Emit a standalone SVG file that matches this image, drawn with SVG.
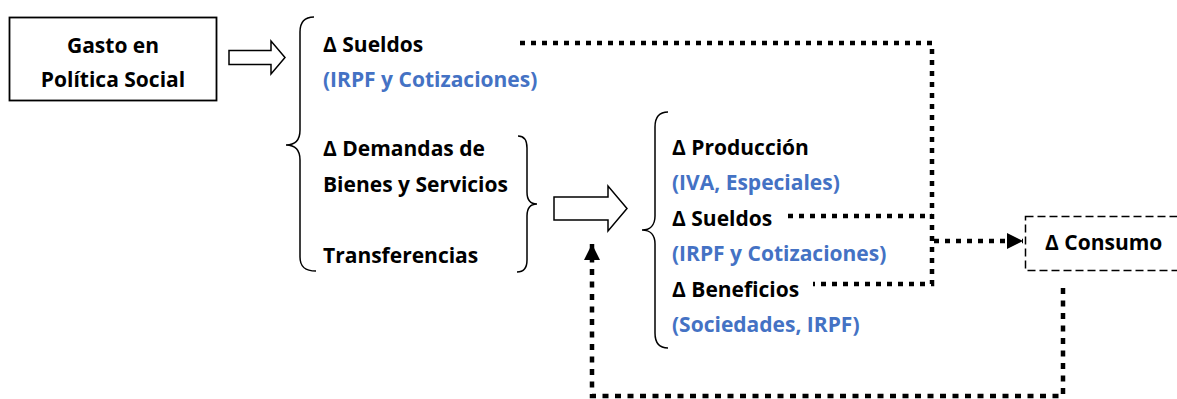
<svg xmlns="http://www.w3.org/2000/svg" width="1177" height="399" viewBox="0 0 1177 399">
<style>
text{font-family:"Open Sans","Liberation Sans",sans-serif;font-weight:bold;font-size:21px;fill:#000}
.b{fill:#4472C4}
.brace{fill:none;stroke:#000;stroke-width:1.5}
.hollow{fill:#fff;stroke:#000;stroke-width:1.5;stroke-linejoin:miter}
.dot{fill:none;stroke:#000;stroke-width:4.5;stroke-dasharray:5 6}
.dot2{fill:none;stroke:#000;stroke-width:4.5;stroke-dasharray:6 6.5}
</style>
<defs>
<marker id="ah" markerUnits="userSpaceOnUse" markerWidth="18" markerHeight="18" refX="16" refY="8" orient="auto" viewBox="0 0 18 18">
<path d="M0,0 L16,8 L0,16 Z" fill="#000"/>
</marker>
</defs>
<rect width="1177" height="399" fill="#fff"/>
<g id="gasto">
<rect x="9.5" y="17.5" width="207" height="83" fill="#fff" stroke="#000" stroke-width="1.8"/>
<text x="113" y="53" text-anchor="middle">Gasto en</text>
<text x="113" y="87" text-anchor="middle">Política Social</text>
</g>
<g id="arrow1">
<polygon class="hollow" points="229,50.5 271,50.5 271,41 285,57.5 271,74 271,64.5 229,64.5"/>
</g>
<g id="grupo1">
<path class="brace" d="M314,17 C305,17 300,22 300,32 L300,130 C300,140 295,145 286,145 C295,145 300,150 300,160 L300,257 C300,267 305,271 316,271"/>
<text x="323" y="52">Δ Sueldos</text>
<text x="323" y="87" class="b">(IRPF y Cotizaciones)</text>
<text x="323" y="156">Δ Demandas de</text>
<text x="323" y="192">Bienes y Servicios</text>
<text x="323" y="263">Transferencias</text>
<path class="brace" d="M518,136 C524,136 527,140 527,148 L527,192 C527,200 530,204 537,204 C530,204 527,208 527,216 L527,260 C527,268 524,272 517,272"/>
</g>
<g id="arrow2">
<polygon class="hollow" points="554,197 608,197 608,186 627,208.5 608,231 608,220 554,220"/>
</g>
<g id="grupo2">
<path class="brace" d="M668,112 C660,112 655,117 655,127 L655,216 C655,225 650,230 642,230 C650,230 655,235 655,244 L655,333 C655,343 660,348 668,348"/>
<text x="672" y="155">Δ Producción</text>
<text x="672" y="190" class="b">(IVA, Especiales)</text>
<text x="672" y="226">Δ Sueldos</text>
<text x="672" y="261" class="b">(IRPF y Cotizaciones)</text>
<text x="672" y="297">Δ Beneficios</text>
<text x="672" y="332" class="b">(Sociedades, IRPF)</text>
</g>
<g id="consumo">
<rect x="1025.5" y="216.5" width="170" height="54" fill="#fff" stroke="#000" stroke-width="1.5" stroke-dasharray="8 4"/>
<text x="1045" y="250">Δ Consumo</text>
</g>
<g id="connectors">
<path class="dot" d="M520,43 H932 V284 H813"/>
<path class="dot" d="M788,216 H932"/>
<path class="dot" d="M934,241 H1023" marker-end="url(#ah)"/>
<path class="dot2" d="M1063,288 V396 H592 V244" marker-end="url(#ah)"/>
</g>
</svg>
